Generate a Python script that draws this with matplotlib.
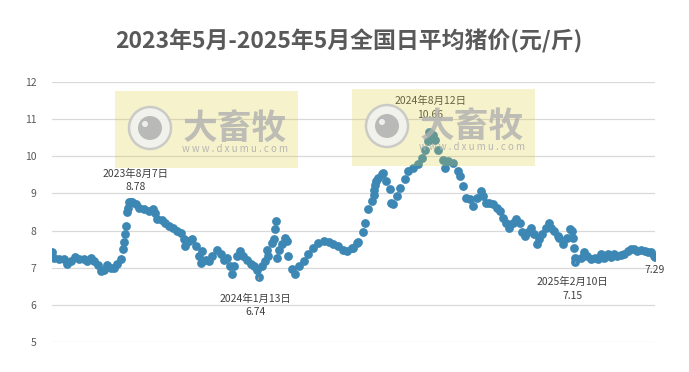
import numpy as np
import matplotlib
matplotlib.use("Agg")
import matplotlib.pyplot as plt
import matplotlib.patches as mpatches
import matplotlib.transforms as mtransforms

plt.rcParams['font.family'] = ['Noto Sans CJK SC', 'DejaVu Sans']

# daily pig price (days after 2023-05-01, yuan/jin)
start_date = np.datetime64('2023-05-01')
day_offset = [0, 3, 9, 15, 19, 24, 29, 34, 40, 44, 48, 52, 57, 61, 65, 68, 73, 77, 81, 86,
              88, 90, 91, 92, 93, 94, 96, 98, 100, 104, 108, 114, 121, 126, 128, 131, 137, 141,
              145, 150, 156, 161, 164, 166, 170, 174, 179, 183, 185, 187, 191, 195, 199, 205,
              210, 214, 218, 222, 224, 226, 230, 234, 238, 243, 247, 251, 255, 257, 261, 265,
              267, 269, 274, 276, 277, 278, 280, 282, 286, 290, 292, 294, 298, 302, 307, 313,
              319, 325, 331, 338, 344, 350, 356, 362, 367, 373, 375, 379, 381, 387, 389, 393,
              398, 400, 401, 402, 403, 406, 410, 412, 416, 420, 422, 424, 429, 433, 439, 443,
              449, 455, 460, 464, 468, 469, 470, 474, 476, 480, 486, 489, 493, 499, 505, 507,
              511, 515, 520, 524, 528, 533, 536, 540, 544, 548, 553, 557, 561, 565, 569, 573,
              577, 582, 585, 588, 592, 596, 600, 603, 606, 610, 615, 618, 621, 625, 629, 631,
              635, 640, 644, 647, 648, 649, 650, 651, 658, 662, 666, 670, 675, 679, 683, 687,
              691, 695, 699, 703, 708, 712, 716, 720, 724, 728, 732, 737, 741, 745, 749, 750]
price = [7.42, 7.27, 7.24, 7.23, 7.09, 7.18, 7.29, 7.23, 7.23, 7.18, 7.27, 7.18, 7.06, 6.91,
         6.95, 7.06, 7.00, 7.00, 7.09, 7.23, 7.50, 7.69, 7.90, 8.13, 8.49, 8.62, 8.76, 8.78,
         8.77, 8.71, 8.62, 8.58, 8.53, 8.58, 8.48, 8.32, 8.28, 8.21, 8.12, 8.07, 7.98, 7.94,
         7.76, 7.58, 7.72, 7.76, 7.58, 7.31, 7.13, 7.45, 7.22, 7.18, 7.31, 7.49, 7.36, 7.22,
         7.27, 7.04, 6.82, 7.04, 7.31, 7.45, 7.31, 7.22, 7.09, 7.04, 6.95, 6.74, 7.04, 7.18,
         7.49, 7.31, 7.67, 7.76, 8.03, 8.26, 7.27, 7.49, 7.63, 7.81, 7.72, 7.31, 6.96, 6.82,
         7.04, 7.18, 7.36, 7.54, 7.67, 7.72, 7.69, 7.63, 7.58, 7.49, 7.45, 7.54, 7.54, 7.67,
         7.68, 7.95, 8.21, 8.57, 8.79, 8.97, 9.10, 9.24, 9.33, 9.42, 9.51, 9.55, 9.33, 9.11,
         8.75, 8.71, 8.93, 9.15, 9.38, 9.60, 9.69, 9.78, 9.96, 10.18, 10.40, 10.66, 10.63,
         10.58, 10.45, 10.18, 9.91, 9.69, 9.87, 9.82, 9.60, 9.46, 9.20, 8.88, 8.84, 8.66,
         8.88, 9.06, 8.93, 8.75, 8.75, 8.71, 8.62, 8.53, 8.35, 8.21, 8.08, 8.21, 8.30, 8.21,
         7.95, 7.86, 7.95, 8.08, 7.90, 7.63, 7.77, 7.90, 8.08, 8.21, 8.08, 7.99, 7.86, 7.81,
         7.63, 7.81, 8.04, 7.99, 7.81, 7.54, 7.27, 7.15, 7.27, 7.41, 7.32, 7.23, 7.27, 7.24,
         7.36, 7.27, 7.36, 7.30, 7.36, 7.32, 7.33, 7.36, 7.45, 7.50, 7.51, 7.45, 7.48, 7.45,
         7.42, 7.41, 7.32, 7.29]

# labelled points
label_days = [98, 257, 469, 651, 750]
label_texts = ['2023年8月7日\n8.78', '2024年1月13日\n6.74', '2024年8月12日\n10.66',
               '2025年2月10日\n7.15', '7.29']

dates = start_date + np.array(day_offset).astype('timedelta64[D]')
values = np.array(price)

W, H = 689, 372
fig = plt.figure(figsize=(W / 100, H / 100), dpi=100)
ax = fig.add_axes([52 / W, 1 - 342 / H, 603 / W, 260 / H])

ax.scatter(dates, values, s=40, color='#3c87b4', linewidths=0, zorder=3)

ax.set_xlim(start_date, start_date + np.timedelta64(750, 'D'))
ax.set_ylim(5, 12)
ax.set_yticks(range(5, 13))
ax.grid(axis='y', color='#d9d9d9', linewidth=0.9, zorder=0)
ax.set_xticks([])
for s in ax.spines.values():
    s.set_visible(False)
ax.tick_params(axis='y', length=0, pad=11, labelsize=7.5, labelcolor='#595959')

fig.text(349 / W, 1 - 41 / H, '2023年5月-2025年5月全国日平均猪价(元/斤)', ha='center', va='center',
         fontsize=16.5, fontweight='bold', color='#595959')

offsets = [(5, 21), (-3, -28), (1, 24), (-3, -27), (0, -13)]
for d, txt, off in zip(label_days, label_texts, offsets):
    i = day_offset.index(d)
    arrow = None
    if off[1] < -20:
        arrow = dict(arrowstyle='-', color='#a6a6a6', lw=0.6, shrinkA=8, shrinkB=3)
    ax.annotate(txt, xy=(dates[i], values[i]), xytext=off, textcoords='offset pixels',
                ha='center', va='center', fontsize=7.5, color='#404040', linespacing=1.45,
                arrowprops=arrow, zorder=5)

# watermark boxes (top-left pixel positions)
px = mtransforms.IdentityTransform()
for bx, by in [(115, 91), (352, 89)]:
    fig.patches.append(mpatches.Rectangle((bx, H - by - 77), 183, 77, transform=px,
                                          facecolor='#ddcd37', alpha=0.25, edgecolor='none', zorder=4))
    cx, cy = bx + 35, H - by - 37
    fig.patches.append(mpatches.Circle((cx, cy), 21, transform=px, facecolor='#f2f2f2',
                                       edgecolor='#c4c4c4', lw=1.8, alpha=0.85, zorder=4))
    fig.patches.append(mpatches.Circle((cx, cy), 12, transform=px, facecolor='#b3b3b3',
                                       edgecolor='none', alpha=0.9, zorder=4))
    fig.patches.append(mpatches.Circle((cx - 5, cy + 4), 3, transform=px, facecolor='#f5f5f5',
                                       edgecolor='none', alpha=0.9, zorder=4))
    fig.text(bx + 120, cy, '大畜牧', transform=px, ha='center', va='center', fontsize=25,
             fontweight='bold', color='#b0b0b0', alpha=0.8, zorder=4)
    fig.text(bx + 120, H - by - 58, 'w w w . d x u m u . c o m', transform=px, ha='center',
             va='center', fontsize=7, color='#b0b0b0', alpha=0.9, zorder=4)

fig.savefig('out.png', dpi=100)
